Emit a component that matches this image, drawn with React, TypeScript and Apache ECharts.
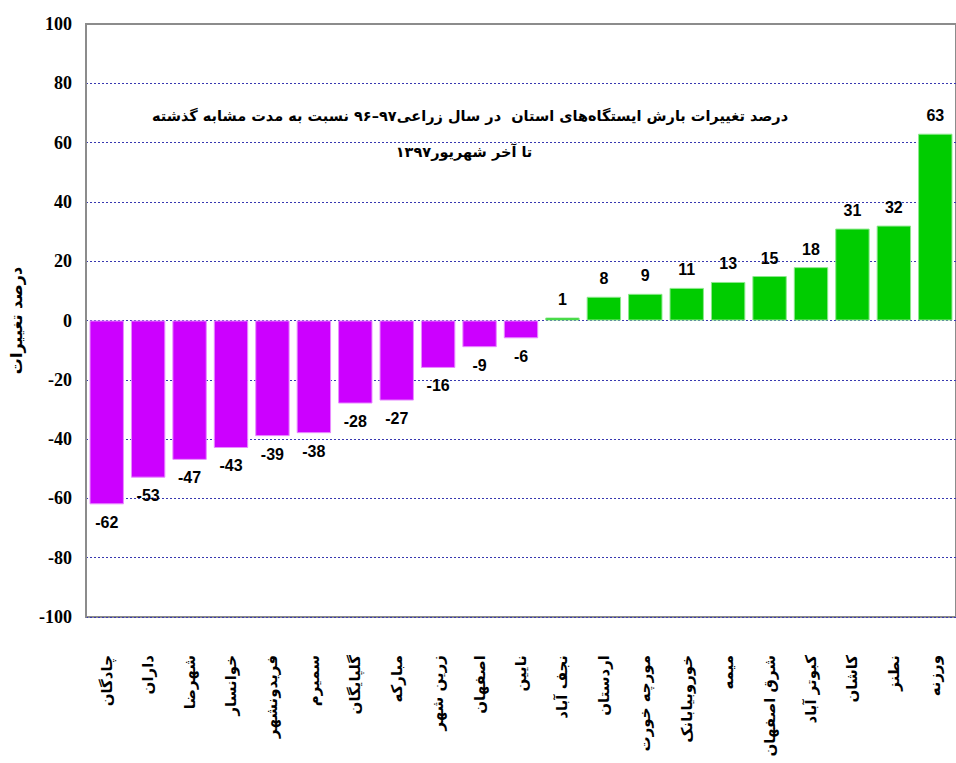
import React, { useEffect, useRef } from "react";
import * as echarts from "echarts";

const categories = [
  "چادگان", "داران", "شهرضا", "خوانسار", "فریدونشهر", "سمیرم", "گلپایگان",
  "مبارکه", "زرین شهر", "اصفهان", "نایین", "نجف آباد", "اردستان", "مورچه خورت",
  "خوروبیابانک", "میمه", "شرق اصفهان", "کبوتر آباد", "کاشان", "نطنز", "ورزنه",
];
const values = [-62, -53, -47, -43, -39, -38, -28, -27, -16, -9, -6, 1, 8, 9, 11, 13, 15, 18, 31, 32, 63];
const yTicks = { min: -100, max: 100, interval: 20 };
const titleLine1 = "درصد تغییرات بارش ایستگاه‌های استان  در سال زراعی۹۷–۹۶ نسبت به مدت مشابه گذشته";
const titleLine2 = "تا آخر شهریور۱۳۹۷";
const yName = "درصد تغییرات";

const NEG = "#cc00ff";
const POS = "#00cc00";

export default function App() {
  const ref = useRef<HTMLDivElement>(null);
  useEffect(() => {
    if (!ref.current) return;
    const chart = echarts.init(ref.current, null, { renderer: "svg" });
    chart.setOption({
      animation: false,
      backgroundColor: "#ffffff",
      grid: {
        left: 80,
        top: 24,
        bottom: 146,
        right: -6,
        containLabel: false,
        show: true,
        borderColor: "#8c8c8c",
        borderWidth: 2,
        backgroundColor: "#ffffff",
      },
      xAxis: {
        type: "category",
        data: categories,
        position: "bottom",
        axisLine: { show: false },
        axisTick: { show: false },
        axisLabel: {
          interval: 0,
          rotate: 90,
          margin: 38,
          fontFamily: "DejaVu Sans",
          fontWeight: "bold",
          fontSize: 15,
          color: "#000",
        },
      },
      yAxis: {
        type: "value",
        min: yTicks.min,
        max: yTicks.max,
        interval: yTicks.interval,
        name: yName,
        nameLocation: "middle",
        nameRotate: 90,
        nameGap: 62,
        nameTextStyle: { fontFamily: "DejaVu Sans", fontWeight: "bold", fontSize: 16, color: "#000" },
        axisLine: { show: true, onZero: false, lineStyle: { color: "#8c8c8c", width: 2 } },
        axisTick: { show: false },
        axisLabel: {
          margin: 14,
          fontFamily: "Liberation Serif",
          fontWeight: "bold",
          fontSize: 18,
          color: "#000",
        },
        splitLine: {
          show: true,
          showMaxLine: false,
          showMinLine: true,
          lineStyle: { type: [2, 2], color: "#3838b0", width: 1 },
        },
      },
      series: [
        {
          type: "bar",
          barCategoryGap: "17%",
          data: values.map((v) => ({
            value: v,
            itemStyle: {
              color: v < 0 ? NEG : POS,
              borderColor: v < 0 ? "#e88cff" : "#8ce88c",
              borderWidth: 1,
            },
          })),
          label: {
            show: true,
            position: "outside",
            distance: 10,
            fontFamily: "Liberation Sans",
            fontWeight: "bold",
            fontSize: 16,
            color: "#000",
          },
        },
      ],
      graphic: [
        {
          type: "text",
          x: 470,
          y: 116,
          style: {
            text: titleLine1,
            textAlign: "center",
            textVerticalAlign: "middle",
            fontFamily: "DejaVu Sans",
            fontWeight: "bold",
            fontSize: 14.5,
            fill: "#000",
          },
        },
        {
          type: "text",
          x: 464,
          y: 152,
          style: {
            text: titleLine2,
            textAlign: "center",
            textVerticalAlign: "middle",
            fontFamily: "DejaVu Sans",
            fontWeight: "bold",
            fontSize: 14.5,
            fill: "#000",
          },
        },
      ],
    });
    return () => chart.dispose();
  }, []);
  return <div ref={ref} style={{ position: "fixed", left: 0, top: 0, width: 956, height: 763 }} />;
}
